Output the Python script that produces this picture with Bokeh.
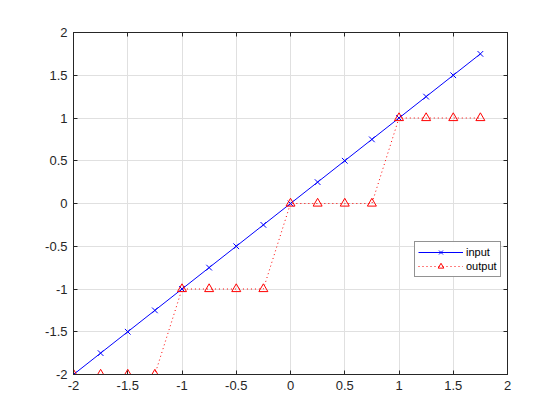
from bokeh.plotting import figure
from bokeh.models import FixedTicker, LinearAxis, Legend, LegendItem, Range1d
from bokeh.embed import file_html
from bokeh.resources import INLINE

x_in = [-2, -1.75, -1.5, -1.25, -1, -0.75, -0.5, -0.25, 0, 0.25, 0.5, 0.75, 1, 1.25, 1.5, 1.75]
y_in = [-2, -1.75, -1.5, -1.25, -1, -0.75, -0.5, -0.25, 0, 0.25, 0.5, 0.75, 1, 1.25, 1.5, 1.75]
y_out = [-2, -2, -2, -2, -1, -1, -1, -1, 0, 0, 0, 0, 1, 1, 1, 1]
ticks = [-2, -1.5, -1, -0.5, 0, 0.5, 1, 1.5, 2]
tick_labels = ["-2", "-1.5", "-1", "-0.5", "0", "0.5", "1", "1.5", "2"]

p = figure(width=552, height=412, output_backend="svg", toolbar_location=None,
           x_range=Range1d(-2, 2), y_range=Range1d(-2, 2),
           min_border_left=73, min_border_right=45, min_border_top=32, min_border_bottom=38)
p.background_fill_color = "white"
p.border_fill_color = "white"
p.outline_line_color = "#262626"
p.outline_line_width = 1

overrides = {t: s for t, s in zip(ticks, tick_labels)}
for ax in [p.xaxis[0], p.yaxis[0]]:
    ax.ticker = FixedTicker(ticks=ticks)
    ax.major_label_overrides = overrides
    ax.major_tick_in = 4
    ax.major_tick_out = 0
    ax.minor_tick_line_color = None
    ax.axis_line_color = "#262626"
    ax.major_tick_line_color = "#262626"
    ax.major_label_text_font = "Liberation Sans"
    ax.major_label_text_font_size = "13px"
    ax.major_label_text_color = "#262626"
p.xaxis[0].major_label_standoff = 6
p.yaxis[0].major_label_standoff = 6

for loc in ["above", "right"]:
    a = LinearAxis(ticker=FixedTicker(ticks=ticks), major_label_overrides={t: "" for t in ticks},
                   major_label_standoff=0,
                   major_tick_in=4, major_tick_out=0, minor_tick_line_color=None,
                   axis_line_color="#262626", major_tick_line_color="#262626")
    p.add_layout(a, loc)

p.xgrid.ticker = FixedTicker(ticks=ticks)
p.ygrid.ticker = FixedTicker(ticks=ticks)
p.grid.grid_line_color = "#e0e0e0"
p.grid.grid_line_width = 1

l1 = p.line(x_in, y_in, line_color="#0000ff", line_width=1)
m1 = p.scatter(x_in, y_in, marker="x", size=8, line_color="#0000ff", line_width=1)
l2 = p.line(x_in, y_out, line_color="#ff0000", line_width=1, line_dash="1 3")
m2 = p.scatter(x_in, y_out, marker="triangle", size=9, line_color="#ff0000",
               fill_color=None, line_width=1)

legend = Legend(items=[LegendItem(label="input", renderers=[l1, m1]),
                       LegendItem(label="output", renderers=[l2, m2])],
                location=(341, 97))
legend.label_text_font = "Liberation Sans"
legend.label_text_font_size = "11px"
legend.label_text_color = "#000000"
legend.border_line_color = "#262626"
legend.border_line_width = 1
legend.padding = 3
legend.spacing = 0
legend.margin = 0
legend.glyph_width = 45
legend.glyph_height = 14
legend.label_height = 14
legend.label_standoff = 3
p.add_layout(legend, "center")

open("out.html", "w").write(file_html(p, INLINE))
